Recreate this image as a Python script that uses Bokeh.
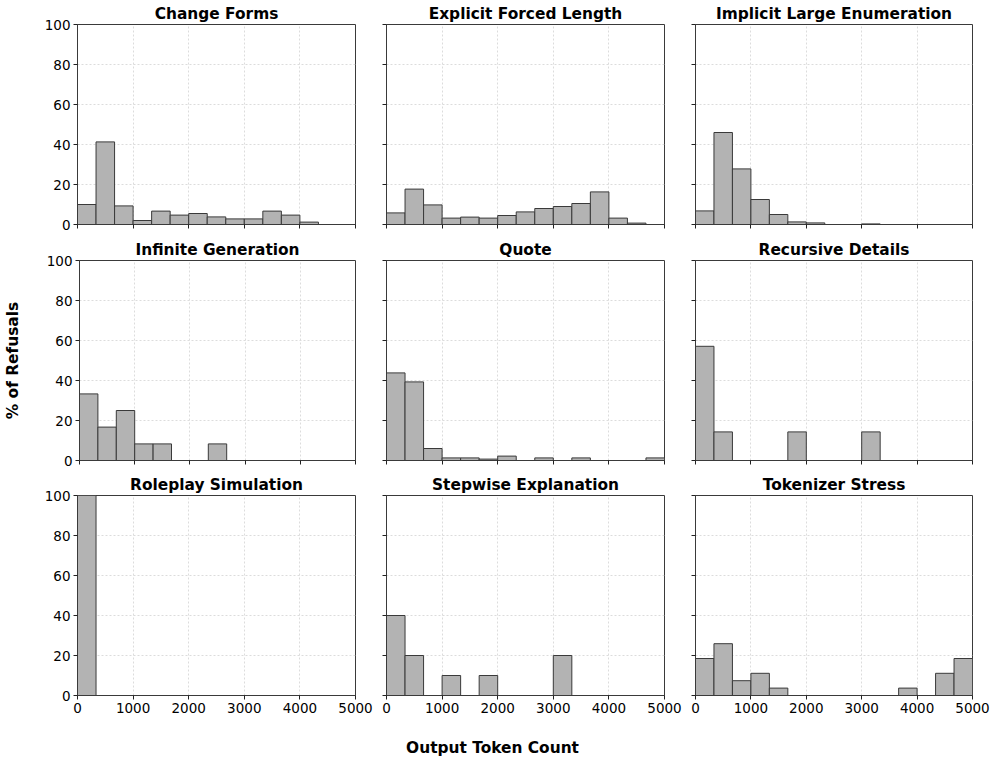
import numpy as np
from bokeh.plotting import figure
from bokeh.layouts import column, row
from bokeh.models import Range1d, FixedTicker, CustomJSTickFormatter
from bokeh.core.properties import value
from bokeh.embed import file_html
from bokeh.resources import INLINE

categories = ["Change Forms", "Explicit Forced Length", "Implicit Large Enumeration",
              "Infinite Generation", "Quote", "Recursive Details",
              "Roleplay Simulation", "Stepwise Explanation", "Tokenizer Stress"]

change_forms = [10.0, 41.3, 9.3, 2.0, 6.7, 4.7, 5.5, 3.8, 2.8, 2.8, 6.7, 4.7, 1.2, 0, 0]
explicit_forced_length = [5.8, 17.7, 9.8, 3.2, 3.7, 3.2, 4.5, 6.3, 8.0, 9.0, 10.5, 16.3, 3.2, 0.7, 0]
implicit_large_enumeration = [6.8, 46.0, 27.8, 12.5, 5.0, 1.3, 0.8, 0, 0, 0.3, 0, 0, 0, 0, 0]
infinite_generation = [33.3, 16.7, 25.0, 8.3, 8.3, 0, 0, 8.3, 0, 0, 0, 0, 0, 0, 0]
quote = [43.8, 39.3, 6.0, 1.3, 1.3, 0.7, 2.2, 0, 1.3, 0, 1.3, 0, 0, 0, 1.3]
recursive_details = [57.1, 14.3, 0, 0, 0, 14.3, 0, 0, 0, 14.3, 0, 0, 0, 0, 0]
roleplay_simulation = [100.0, 0, 0, 0, 0, 0, 0, 0, 0, 0, 0, 0, 0, 0, 0]
stepwise_explanation = [40.0, 20.0, 0, 10.0, 0, 10.0, 0, 0, 0, 20.0, 0, 0, 0, 0, 0]
tokenizer_stress = [18.5, 25.9, 7.4, 11.1, 3.7, 0, 0, 0, 0, 0, 0, 3.7, 0, 11.1, 18.5]

series = [change_forms, explicit_forced_length, implicit_large_enumeration,
          infinite_generation, quote, recursive_details,
          roleplay_simulation, stepwise_explanation, tokenizer_stress]

x_ticks = [0, 1000, 2000, 3000, 4000, 5000]
y_ticks = [0, 20, 40, 60, 80, 100]
x_max = 5000
n_bins = 15
edges = np.linspace(0, x_max, n_bins + 1)

FONT = "DejaVu Sans"
EDGE = "#3a3a3a"
FRAME_H = 200
FRAME_WS = [278, 278, 277]
LEFTS = [77, 13, 13]
RIGHTS = [18, 18, 20]
TOPS = [24, 26, 26]
BOTTOMS = [10, 9, 36]

blank = CustomJSTickFormatter(code="return ''")

rows = []
for r in range(3):
    figs = []
    for c in range(3):
        i = r * 3 + c
        left, right, top, bottom = LEFTS[c], RIGHTS[c], TOPS[r], BOTTOMS[r]
        p = figure(width=left + FRAME_WS[c] + right, height=top + FRAME_H + bottom,
                   output_backend="svg", toolbar_location=None,
                   x_range=Range1d(0, x_max), y_range=Range1d(0, 100),
                   min_border_left=left, min_border_right=right,
                   min_border_top=top, min_border_bottom=bottom,
                   title=categories[i])
        p.title.text_font = FONT
        p.title.text_font_size = "15.4px"
        p.title.text_font_style = "bold"
        p.title.text_color = "black"
        p.title.align = "center"
        p.title.standoff = 4
        p.title.offset = 0
        p.quad(left=edges[:-1], right=edges[1:], bottom=0, top=series[i],
               fill_color="#b3b3b3", line_color=EDGE, line_width=1)
        p.outline_line_color = EDGE
        p.outline_line_width = 1
        p.background_fill_color = "white"
        p.border_fill_color = "white"
        for ax in (p.xaxis[0], p.yaxis[0]):
            ax.axis_line_color = EDGE
            ax.major_tick_line_color = "#222222"
            ax.major_tick_out = 4
            ax.major_tick_in = 0
            ax.minor_tick_line_color = None
            ax.major_label_text_font = FONT
            ax.major_label_text_font_size = "13.5px"
            ax.major_label_text_color = "black"
            ax.major_label_standoff = 3
        p.xaxis[0].ticker = FixedTicker(ticks=x_ticks)
        p.yaxis[0].ticker = FixedTicker(ticks=y_ticks)
        if r < 2:
            p.xaxis[0].formatter = blank
        if c > 0:
            p.yaxis[0].formatter = blank
        if r == 1 and c == 0:
            p.yaxis[0].axis_label = "% of Refusals"
            p.yaxis[0].axis_label_text_font = FONT
            p.yaxis[0].axis_label_text_font_size = "15.4px"
            p.yaxis[0].axis_label_text_font_style = "bold"
            p.yaxis[0].axis_label_text_color = "black"
            p.yaxis[0].axis_label_standoff = 22
        p.xgrid.ticker = FixedTicker(ticks=x_ticks)
        p.ygrid.ticker = FixedTicker(ticks=y_ticks)
        for g in (p.xgrid[0], p.ygrid[0]):
            g.grid_line_color = "#dcdcdc"
            g.grid_line_dash = "2 2"
            g.grid_line_width = 1
        figs.append(p)
    rows.append(row(*figs, spacing=0))

total_w = sum(LEFTS) + sum(FRAME_WS) + sum(RIGHTS)
lab = figure(width=total_w, height=30, output_backend="svg", toolbar_location=None,
             x_range=Range1d(0, 1), y_range=Range1d(0, 1),
             min_border=0)
lab.axis.visible = False
lab.grid.visible = False
lab.outline_line_color = None
lab.text(x=[0.496], y=[0.45], text=["Output Token Count"], text_align="center",
         text_baseline="middle", text_font=value(FONT), text_font_size="15.4px",
         text_font_style="bold", text_color="black")

layout = column(*rows, lab, spacing=0)
open("out.html", "w").write(file_html(layout, INLINE))
